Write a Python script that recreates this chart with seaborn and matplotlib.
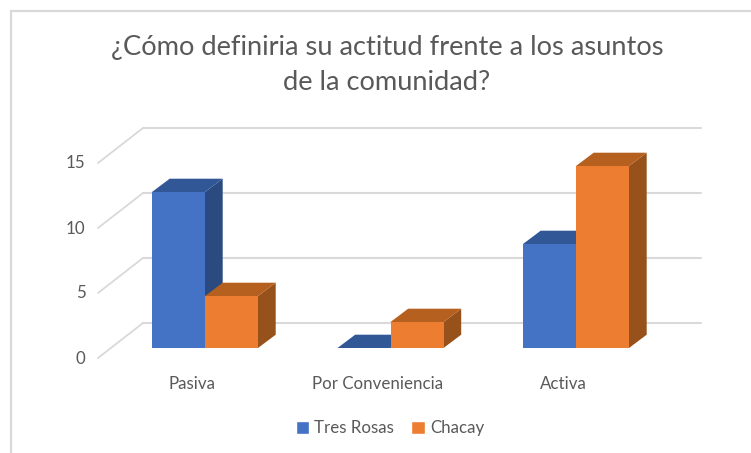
import matplotlib
matplotlib.use("Agg")
import matplotlib.pyplot as plt
from matplotlib.patches import Polygon, Rectangle
from matplotlib.transforms import ScaledTranslation
import pandas as pd
import seaborn as sns

# chart data
categories = ["Pasiva", "Por Conveniencia", "Activa"]
tres_rosas = [12, 0, 8]
chacay = [4, 2, 14]
y_ticks = [0, 5, 10, 15]
title_lines = ["¿Cómo definiria su actitud frente a los asuntos", "de la comunidad?"]

# colours (front, top, side)
COLORS = {
    "Tres Rosas": ("#4472C4", "#325796", "#2A4A80"),
    "Chacay": ("#ED7D31", "#B5601F", "#97511B"),
}
GREY = "#595959"
GRID = "#D9D9D9"

W, H = 751, 453
GROUP_PX = 185.5
UNIT_PX = 13.0


def build_table():
    rows = []
    for name, values in [("Tres Rosas", tres_rosas), ("Chacay", chacay)]:
        for cat, val in zip(categories, values):
            rows.append({"cat": cat, "serie": name, "val": val})
    return pd.DataFrame(rows)


# pixel lengths to data lengths
def dx(px):
    return px / GROUP_PX


def dy(px):
    return px / UNIT_PX


# side and top face of each bar
def add_depth(ax, container, top_color, side_color, z):
    for bar in container:
        x0 = bar.get_x()
        x1 = x0 + bar.get_width()
        h = bar.get_height()
        ox, oy = dx(17.7), dy(13.3)
        bar.set_zorder(z + 0.2)
        bar.set_linewidth(0)
        ax.add_patch(Polygon([(x1, 0), (x1 + ox, oy), (x1 + ox, h + oy), (x1, h)],
                             facecolor=side_color, edgecolor="none", zorder=z, clip_on=False))
        ax.add_patch(Polygon([(x0, h), (x0 + ox, h + oy), (x1 + ox, h + oy), (x1, h)],
                             facecolor=top_color, edgecolor="none", zorder=z + 0.1, clip_on=False))


def add_walls(ax):
    left, right = ax.get_xlim()
    back = dy(25)
    for v in y_ticks:
        ax.plot([left, left + dx(45)], [v - dy(10), v + back], color=GRID, lw=1.3,
                zorder=1, clip_on=False)
        ax.plot([left + dx(45), right], [v + back, v + back], color=GRID, lw=1.5,
                zorder=1, clip_on=False)


def main():
    sns.set_theme(style="white")
    plt.rcParams["font.family"] = ["Lato", "DejaVu Sans"]

    fig = plt.figure(figsize=(W / 100, H / 100), dpi=100)
    ax = fig.add_axes([98 / W, (H - 348) / H, (701 - 98) / W, (348 - 128) / H])

    df = build_table()
    sns.barplot(data=df, x="cat", y="val", hue="serie", order=categories,
                hue_order=list(COLORS), palette={k: v[0] for k, v in COLORS.items()},
                width=53 * 2 / GROUP_PX, gap=0, saturation=1, ax=ax, legend=True)

    ax.set_xlim((98 - 205) / GROUP_PX, (701 - 205) / GROUP_PX)
    ax.set_ylim(0, (348 - 128) / UNIT_PX)
    ax.set_xlabel("")
    ax.set_ylabel("")
    sns.despine(ax=ax, left=True, bottom=True)

    for i, name in enumerate(COLORS):
        add_depth(ax, ax.containers[i], COLORS[name][1], COLORS[name][2], 3 + i * 2)
    add_walls(ax)

    # tick labels sit off the front plane
    ax.set_yticks(y_ticks)
    ax.tick_params(axis="both", length=0, labelsize=12.2, labelcolor=GREY)
    ax.tick_params(axis="y", pad=9)
    ax.tick_params(axis="x", pad=20)
    for lab in ax.get_yticklabels():
        lab.set_transform(lab.get_transform() + ScaledTranslation(0, -9 / 100, fig.dpi_scale_trans))
    for lab in ax.get_xticklabels():
        lab.set_transform(lab.get_transform() + ScaledTranslation(-13 / 100, 0, fig.dpi_scale_trans))

    for i, line in enumerate(title_lines):
        fig.text(387 / W, 1 - (47 + i * 36) / H, line, ha="center", va="center",
                 fontsize=19.6, color=GREY)

    ax.legend(ncol=2, frameon=False, loc="center", bbox_to_anchor=(390 / W, 1 - 428 / H),
              bbox_transform=fig.transFigure, fontsize=12.2, labelcolor=GREY,
              handlelength=0.8, handleheight=0.8, handletextpad=0.3, columnspacing=1.0)

    # chart frame
    fig.add_artist(Rectangle((10.5 / W, -0.1), (W + 50) / W, 1.1 - 10.5 / H, fill=False,
                             edgecolor=GRID, lw=1.6, transform=fig.transFigure))

    fig.savefig("out.png", dpi=100)
    plt.close(fig)


if __name__ == "__main__":
    main()
